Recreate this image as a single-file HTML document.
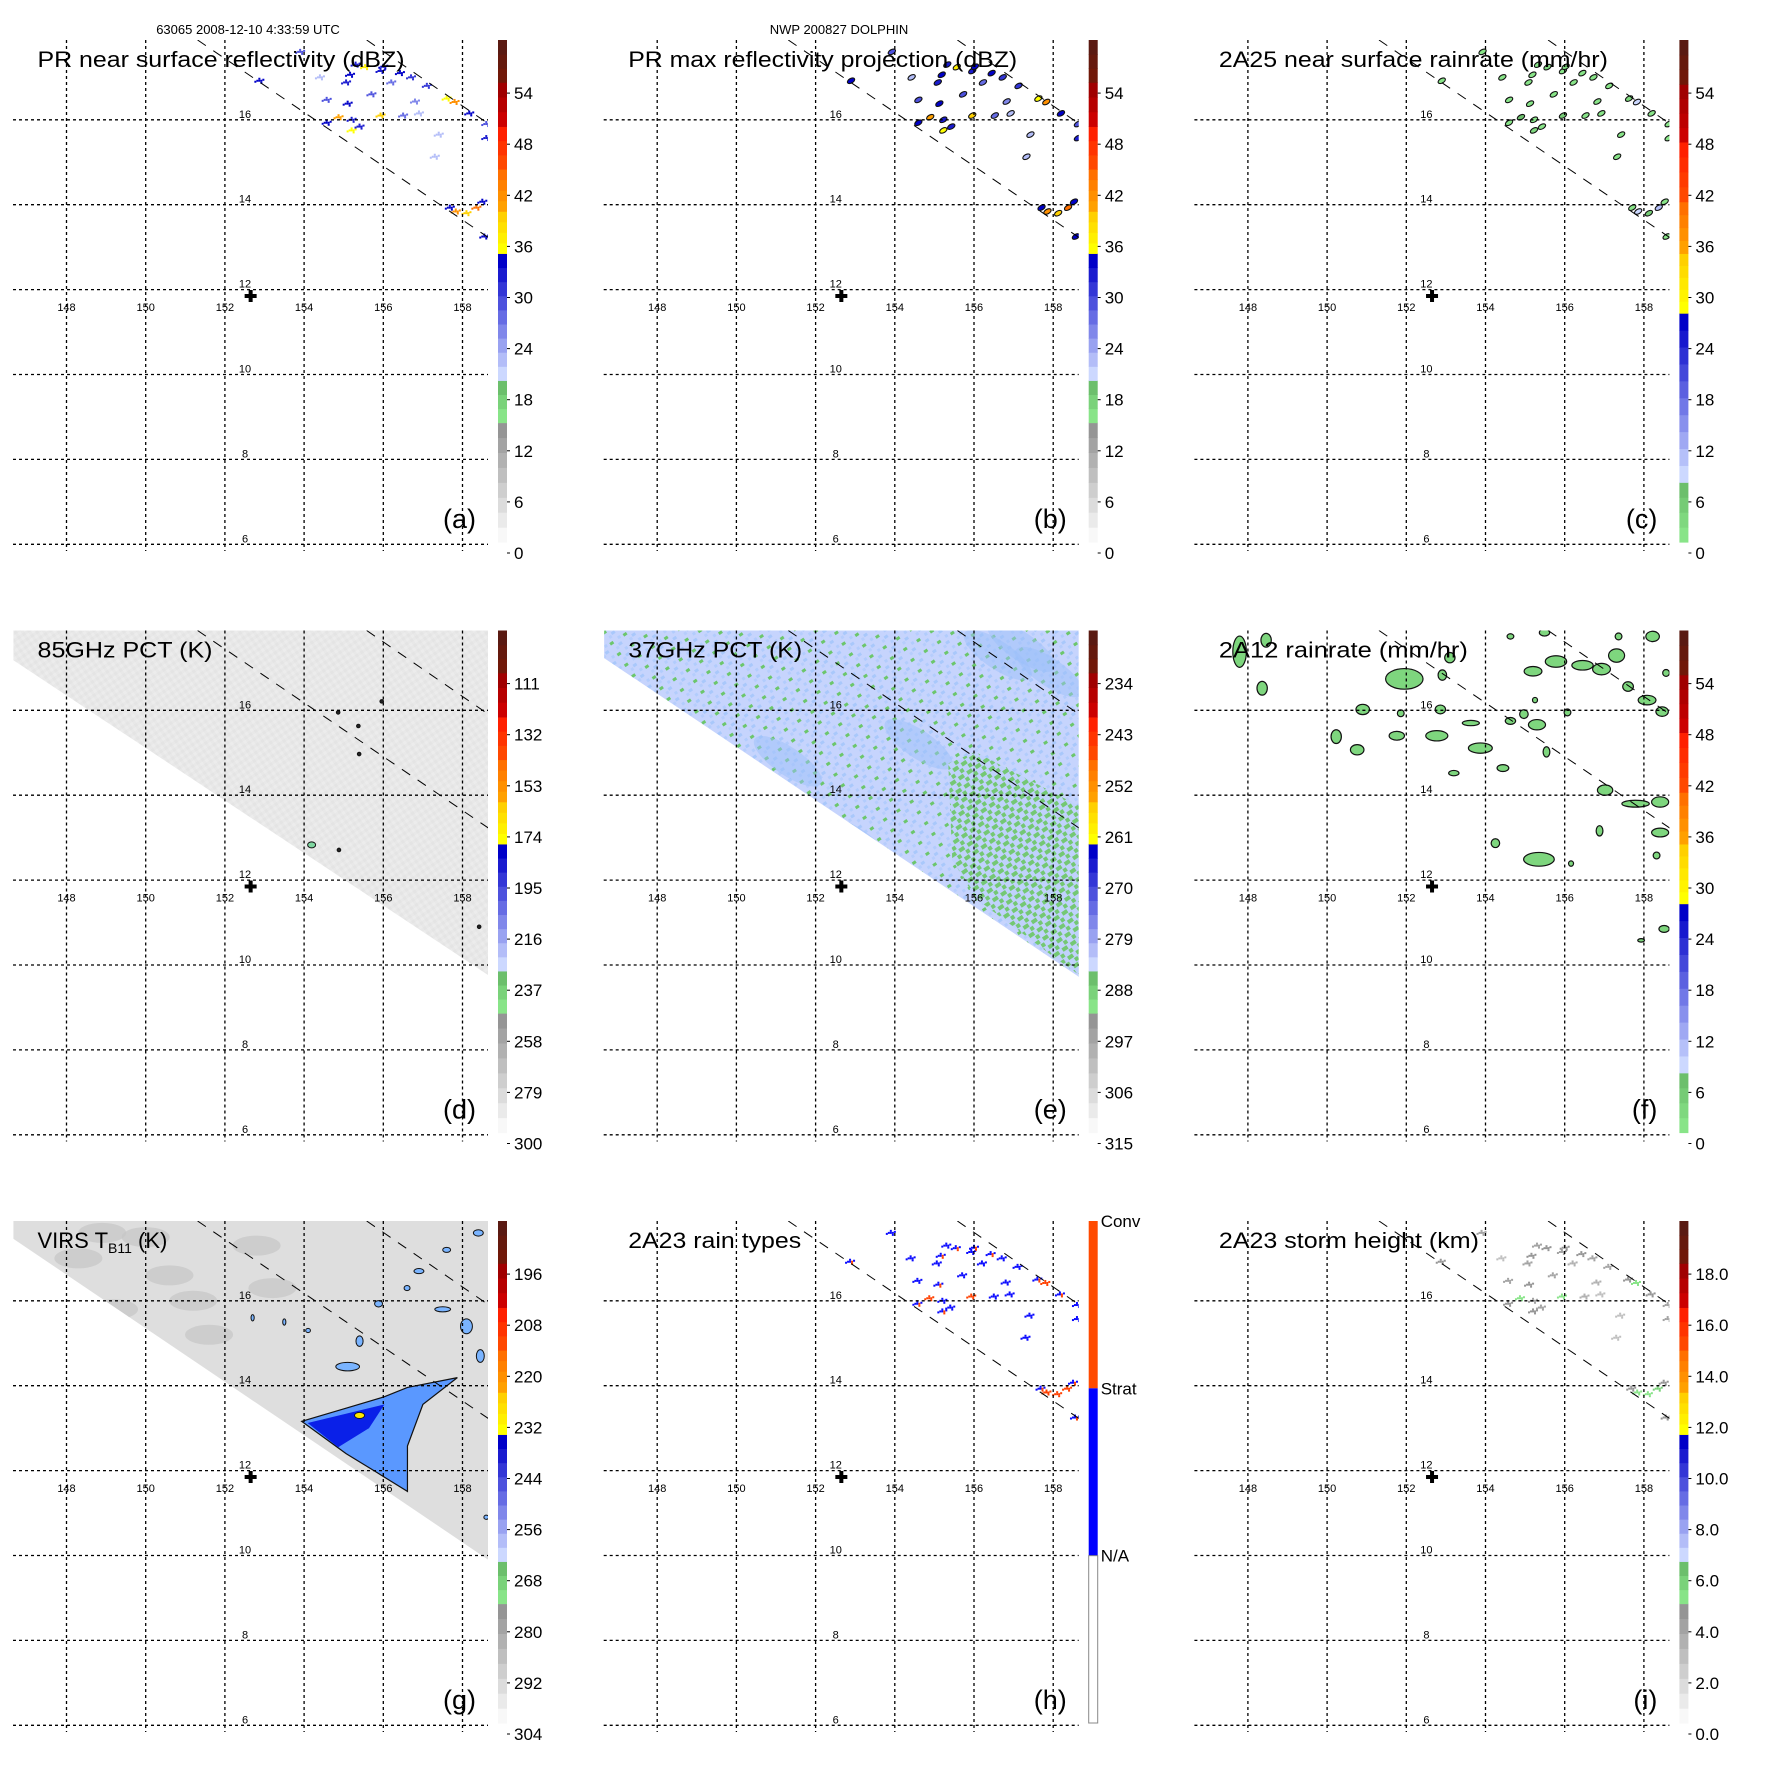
<!DOCTYPE html>
<html><head><meta charset="utf-8"><title>TRMM overpass panels</title>
<style>
html,body{margin:0;padding:0;background:#fff;}
svg{display:block;font-family:"Liberation Sans",sans-serif;}
</style></head>
<body>
<svg id="fig" xmlns="http://www.w3.org/2000/svg" width="1771" height="1771" viewBox="0 0 1771 1771">
<defs>
<clipPath id="plotclip"><rect x="13" y="40" width="475" height="511"/></clipPath>
<pattern id="greenSparse" width="16" height="13" patternUnits="userSpaceOnUse" patternTransform="rotate(-34)">
<rect x="0" y="0" width="16" height="13" fill="#c6d4fd"/>
<rect x="2" y="2" width="4" height="3" fill="#6cc66c"/>
<rect x="9" y="7" width="4" height="3" fill="#a9c8fb"/>
<rect x="12" y="1" width="3" height="3" fill="#b2ccfc"/>
<rect x="5" y="9" width="3" height="3" fill="#b6cdfc"/>
</pattern>
<pattern id="greenDense" width="10" height="10" patternUnits="userSpaceOnUse" patternTransform="rotate(-34)">
<rect x="0" y="0" width="10" height="10" fill="#c0d2fc"/>
<rect x="0" y="0" width="6" height="4" fill="#74c874"/>
<rect x="5" y="5" width="4" height="4" fill="#74c874"/>
</pattern>
<pattern id="grayTex" width="6" height="6" patternUnits="userSpaceOnUse" patternTransform="rotate(-34)">
<rect x="0" y="0" width="6" height="6" fill="#e8e8e8"/>
<rect x="0" y="0" width="3" height="3" fill="#e4e4e4"/>
<rect x="3" y="3" width="3" height="3" fill="#ececec"/>
</pattern>
</defs>
</svg>
<script>
// ---------- data arrays ----------
const panelTitles = ["PR near surface reflectivity (dBZ)","PR max reflectivity projection (dBZ)","2A25 near surface rainrate (mm/hr)","85GHz PCT (K)","37GHz PCT (K)","2A12 rainrate (mm/hr)","VIRS T","2A23 rain types","2A23 storm height (km)"];
const titleWidths = [367,389,389,175,174,249,147,173,260];
const panelLetters = ["(a)","(b)","(c)","(d)","(e)","(f)","(g)","(h)","(i)"];
const labelsA = ["0","6","12","18","24","30","36","42","48","54"];
const labelsD = ["300","279","258","237","216","195","174","153","132","111"];
const labelsE = ["315","306","297","288","279","270","261","252","243","234"];
const labelsG = ["304","292","280","268","256","244","232","220","208","196"];
const labelsI = ["0.0","2.0","4.0","6.0","8.0","10.0","12.0","14.0","16.0","18.0"];
const labelsH = ["Conv","Strat","N/A"];
const lonTicks = [148,150,152,154,156,158];
const latTicks = [6,8,10,12,14,16];
const centerLon = 152.65, centerLat = 11.85;
const swathALon = [151.31,158.68], swathALat = [17.88,13.21];
const swathBLon = [155.58,158.68], swathBLat = [17.88,15.89];
const prLon = [155.16,155.54,155.93,156.42,156.7,157.6,157.8,158.17,158.6,158.6,155.06,154.57,155.1,154.87,154.57,155.2,155.4,155.93,155.2,155.7,156.2,156.8,156.9,153.9,152.87,154.4,157.68,157.83,158.1,158.35,158.5,158.55,157.3,157.4,156.5,155.3,156.0,157.1];
const prLat = [17.06,17.24,17.15,17.1,17.0,16.5,16.42,16.15,15.9,15.57,16.88,16.47,16.38,16.06,15.93,15.75,15.84,16.1,16.0,16.6,16.88,16.43,16.15,17.6,16.92,17.0,13.93,13.84,13.8,13.93,14.07,13.25,15.13,15.65,16.1,17.3,17.25,16.8];
const prDbz = [30,33,28,30,27,32,38,30,26,28,28,26,30,37,30,32,28,36,28,25,24,22,18,25,30,18,30,38,36,40,30,30,18,19,24,29,31,27];
const f12Lon = [147.79,148.46,148.36,151.95,152.91,153.1,150.9,151.86,152.86,150.23,150.76,151.76,152.77,153.63,153.87,154.44,153.2,154.63,154.97,155.3,155.54,156.07,155.25,155.49,154.63,155.2,155.78,156.45,156.93,157.31,157.6,158.08,158.46,157.02,157.79,158.41,156.88,158.41,154.25,155.35,156.16,158.32,158.51,157.93,158.22,157.36,158.56];
const f12Lat = [17.38,17.65,16.52,16.74,16.83,17.24,16.02,15.93,16.02,15.38,15.07,15.4,15.4,15.7,15.11,14.64,14.52,15.75,15.91,15.66,15.02,15.95,16.24,17.83,17.74,16.92,17.15,17.06,16.97,17.29,16.56,16.24,15.97,14.12,13.8,13.84,13.16,13.12,12.87,12.49,12.39,12.58,10.85,10.58,17.74,17.74,16.88];
const f12W = [0.38,0.29,0.29,1.05,0.24,0.29,0.38,0.19,0.29,0.29,0.38,0.43,0.62,0.48,0.67,0.33,0.29,0.29,0.24,0.48,0.19,0.19,0.14,0.29,0.19,0.5,0.6,0.6,0.5,0.45,0.3,0.5,0.35,0.43,0.77,0.48,0.19,0.48,0.24,0.86,0.14,0.19,0.29,0.19,0.38,0.19,0.19];
const f12H = [0.82,0.36,0.36,0.54,0.27,0.27,0.27,0.18,0.23,0.36,0.27,0.23,0.27,0.14,0.27,0.18,0.14,0.18,0.23,0.27,0.27,0.18,0.14,0.18,0.14,0.25,0.3,0.25,0.3,0.35,0.25,0.25,0.25,0.27,0.18,0.27,0.27,0.23,0.23,0.36,0.14,0.18,0.18,0.09,0.27,0.18,0.18];
const d85Lon = [154.86,155.96,155.37,155.39,154.19,154.88,158.42];
const d85Lat = [15.95,16.21,15.63,14.97,12.83,12.71,10.9];
const edgeLon = [146.66,158.65];
const edgeLatD = [17.18,9.76];
const edgeLatE = [17.23,9.72];
const edgeLatG = [17.46,9.9];
const eGreenLon = [155.35,156.03,158.65,158.65,157.97,156.03,155.45];
const eGreenLat = [14.75,15.02,13.75,9.77,10.22,11.58,12.49];
const eBlueLon = [156.6,157.2,157.9,154.6,151.3,153.0];
const eBlueLat = [17.3,17.5,16.9,15.2,14.8,12.9];
const gCloudLon = [153.94,155.06,156.03,156.61,157.87,157.0,156.61,156.61,155.83,155.06];
const gCloudLat = [13.16,13.47,13.74,13.96,14.19,13.56,12.58,11.51,11.96,12.4];
const gCoreLon = [154.09,156.03,155.64,154.86];
const gCoreLat = [13.12,13.56,13.0,12.55];
const gCellLon = [155.1,155.4,155.88,157.5,158.1,158.45,154.1,156.9,157.6,158.4,156.6,153.5,152.7,158.6];
const gCellLat = [14.45,15.05,15.93,15.8,15.4,14.7,15.3,16.7,17.2,17.6,16.3,15.5,15.6,10.9];
const gCellW = [0.6,0.18,0.2,0.4,0.3,0.2,0.12,0.25,0.2,0.25,0.15,0.08,0.08,0.12];
const gCellH = [0.2,0.25,0.15,0.12,0.35,0.3,0.1,0.12,0.12,0.15,0.12,0.15,0.15,0.1];
const gPatchLon = [148.3,150.6,149.2,151.6,152.8,150.0,153.2,151.2,148.9];
const gPatchLat = [17.0,16.6,15.8,15.2,17.3,17.5,16.3,16.0,17.6];

// ---------- helpers ----------
const NS = "http://www.w3.org/2000/svg";
const svg = document.getElementById("fig");
const COL = 590.7, ROW = 590.5;
function xS(lon){ return 66.5 + (lon - 148) * 39.6; }
function yS(lat){ return 119.8 + (16 - lat) * 42.45; }
function mk(tag, attrs, parent){
  const e = document.createElementNS(NS, tag);
  for (const k in attrs) e.setAttribute(k, attrs[k]);
  parent.appendChild(e);
  return e;
}
function hex(c){ return [parseInt(c.substr(1,2),16),parseInt(c.substr(3,2),16),parseInt(c.substr(5,2),16)]; }
function lerp(c0,c1,t){ const a=hex(c0),b=hex(c1); return "rgb("+a.map((v,i)=>Math.round(v+(b[i]-v)*t)).join(",")+")"; }
const schemeA = [[0,0.238,"#f8f8f8","#959595",8],[0.238,0.322,"#88e488","#6cbf6c",3],[0.322,0.575,"#ccd8ff","#0000c8",9],[0.575,0.659,"#ffff00","#ffd000",4],[0.659,0.743,"#ffa000","#ff7000",4],[0.743,0.828,"#ff4800","#ff2000",3],[0.828,0.916,"#cc0000","#a00000",3],[0.916,1,"#701808","#5a1a12",3]];
const schemeB = [[0,0.119,"#88e488","#6cbf6c",4],[0.119,0.456,"#ccd8ff","#0000c8",10],[0.456,0.575,"#ffff00","#ffd000",5],[0.575,0.678,"#ffa000","#ff7000",4],[0.678,0.797,"#ff4800","#ff2000",4],[0.797,0.912,"#cc0000","#a00000",4],[0.912,1,"#701808","#5a1a12",3]];
function schemeColor(s, f){
  f = Math.max(0, Math.min(0.999, f));
  for (const g of s){ if (f >= g[0] && f < g[1]){ const k = Math.floor((f-g[0])/(g[1]-g[0])*g[4]); return lerp(g[2],g[3], g[4]>1?k/(g[4]-1):0); } }
  return "#fff";
}
const CB_TOP = 40, CB_BOT = 542;
function valFrac(v, perLabel){ const y = 553 - v / perLabel * 51.1; return (CB_BOT - y) / (CB_BOT - CB_TOP); }
const cellTpl = [[0,0],[2,0],[-2,0],[0,-2],[2,2],[4,-1],[-4,1]];

// ---------- panels ----------
for (let p = 0; p < 9; p++){
  const col = p % 3, row = Math.floor(p / 3);
  const g = mk("g", {transform:"translate("+(col*COL).toFixed(1)+","+(row*ROW).toFixed(1)+")"}, svg);
  
  
  const plot = mk("g", {"clip-path":"url(#plotclip)"}, g);
  
  

  if (p === 3 || p === 4 || p === 6){
    const el = p===3 ? edgeLatD : (p===4 ? edgeLatE : edgeLatG);
    const pts = [[xS(edgeLon[0]),40],[xS(edgeLon[1]),40],[xS(edgeLon[1]),yS(el[1])],[xS(edgeLon[0]),yS(el[0])]];
    const fill = p===3 ? "url(#grayTex)" : (p===4 ? "url(#greenSparse)" : "#dedede");
    const sw = mk("polygon", {points: pts.map(q=>q.join(",")).join(" "), fill: fill}, plot);
    
    
    const clipId = "swc"+p;
    const cp = mk("clipPath", {id: clipId}, plot);
    mk("polygon", {points: pts.map(q=>q.join(",")).join(" ")}, cp);
    const inner = mk("g", {"clip-path":"url(#"+clipId+")"}, plot);
    if (p === 3){
      for (let i=0;i<d85Lon.length;i++){
        const d = mk("ellipse", {cx:xS(d85Lon[i]), cy:yS(d85Lat[i]), rx: i===4?4:1.8, ry: i===4?3:1.8, fill: i===4?"#7ed6a0":"#222", stroke:"#111", "stroke-width":1}, inner);
        
        
      }
    }
    if (p === 4){
      for (let i=0;i<eBlueLon.length;i++){
        const b = mk("ellipse", {cx:xS(eBlueLon[i]), cy:yS(eBlueLat[i]), rx:40, ry:14, fill:"#9cc0fa", opacity:0.5, transform:"rotate(34 "+xS(eBlueLon[i])+" "+yS(eBlueLat[i])+")"}, inner);
        
        
      }
      const gp = mk("polygon", {points: eGreenLon.map((v,i)=>xS(v)+","+yS(eGreenLat[i])).join(" "), fill:"url(#greenDense)"}, inner);
      
      
    }
    if (p === 6){
      for (let i=0;i<gPatchLon.length;i++){
        const pa = mk("ellipse", {cx:xS(gPatchLon[i]), cy:yS(gPatchLat[i]), rx:24, ry:10, fill:"#c6c6c6", opacity:0.7}, inner);
        
        
      }
      const cl = mk("polygon", {points: gCloudLon.map((v,i)=>xS(v)+","+yS(gCloudLat[i])).join(" "), fill:"#5a98ff", stroke:"#111", "stroke-width":1.2}, inner);
      
      
      const co = mk("polygon", {points: gCoreLon.map((v,i)=>xS(v)+","+yS(gCoreLat[i])).join(" "), fill:"#0a20e8"}, inner);
      
      
      const ye = mk("ellipse", {cx:xS(155.4), cy:yS(13.3), rx:5, ry:3, fill:"#ffe800", stroke:"#111", "stroke-width":0.8}, inner);
      
      
      for (let i=0;i<gCellLon.length;i++){
        const c = mk("ellipse", {cx:xS(gCellLon[i]), cy:yS(gCellLat[i]), rx:gCellW[i]*39.6/2, ry:gCellH[i]*42.45/2, fill:"#7ab4ff", stroke:"#111", "stroke-width":1}, inner);
        
        
      }
    }
  }

  if ([0,1,2,7,8].includes(p)){
    for (let i=0;i<prLon.length;i++){
      const cx = xS(prLon[i]), cy = yS(prLat[i]), v = prDbz[i];
      if (p === 0 || p === 7 || p === 8){
        let col;
        if (p === 0) col = schemeColor(schemeA, valFrac(v + 4, 6));
        else if (p === 7) col = v >= 35 ? "#ff4000" : "#0a0aff";
        else col = schemeColor(schemeA, valFrac(1 + v*0.12, 2));
        const cg = mk("g", {}, plot);
        
        
        cellTpl.forEach((o,k)=>{
          const c2 = (p===7 && k%3===1) ? (v>=30?"#ff4000":"#0a0aff") : col;
          mk("rect", {x:cx+o[0]-1, y:cy+o[1]-1, width:2, height:2, fill:c2}, cg);
        });
      } else {
        const col = p === 1 ? schemeColor(schemeA, valFrac(v+4, 6)) : schemeColor(schemeB, valFrac(Math.pow(Math.pow(10, v/10)/200, 1/1.6), 6));
        const e = mk("ellipse", {cx:cx+1, cy:cy, rx:4, ry:2.3, fill:col, stroke:"#111", "stroke-width":1.1, transform:"rotate(-30 "+(cx+1)+" "+cy+")"}, plot);
        
        
      }
    }
  }

  if (p === 5){
    for (let i=0;i<f12Lon.length;i++){
      const b = mk("ellipse", {cx:xS(f12Lon[i]), cy:yS(f12Lat[i]), rx:f12W[i]*39.6/2*0.9, ry:f12H[i]*42.45/2*0.9, fill:"#7ed67e", stroke:"#111", "stroke-width":1.2}, plot);
      
      
    }
  }

  lonTicks.forEach(lon=>{
    const l = mk("line", {x1:xS(lon), y1:40, x2:xS(lon), y2:551, stroke:"#000", "stroke-width":1.3, "stroke-dasharray":"3 3"}, g);
    
    
    const t = mk("text", {x:xS(lon), y:311, "font-size":11, "text-anchor":"middle", fill:"#000"}, g);
    t.textContent = lon;
    
    
  });
  latTicks.forEach(lat=>{
    const l = mk("line", {x1:13, y1:yS(lat), x2:488, y2:yS(lat), stroke:"#000", "stroke-width":1.3, "stroke-dasharray":"3 3"}, g);
    
    
    const t = mk("text", {x:245, y:yS(lat)-2, "font-size":11, "text-anchor":"middle", fill:"#000"}, g);
    t.textContent = lat;
    
    
  });

  [[swathALon,swathALat],[swathBLon,swathBLat]].forEach(s=>{
    const l = mk("line", {x1:xS(s[0][0]), y1:yS(s[1][0]), x2:xS(s[0][1]), y2:yS(s[1][1]), stroke:"#000", "stroke-width":1, "stroke-dasharray":"10 9"}, plot);
    
    
  });

  const cx = xS(centerLon), cy = yS(centerLat);
  const plus = mk("path", {d:"M"+(cx-6)+","+cy+"H"+(cx+6)+"M"+cx+","+(cy-6)+"V"+(cy+6), stroke:"#000", "stroke-width":4}, g);
  
  

  const tt = mk("text", {x:37.5, y:67, "font-size":22, fill:"#000", textLength:titleWidths[p], lengthAdjust:"spacingAndGlyphs"}, g);
  
  
  if (p === 6){
    tt.textContent = panelTitles[p];
    const sub = mk("tspan", {"font-size":14, dy:5}, tt);
    sub.textContent = "B11";
    const rest = mk("tspan", {dy:-5}, tt);
    rest.textContent = " (K)";
    tt.removeAttribute("textLength");
  } else tt.textContent = panelTitles[p];

  const lt = mk("text", {x:476, y:528, "font-size":27, "text-anchor":"end", fill:"#000"}, g);
  lt.textContent = panelLetters[p];
  
  

  const cb = mk("g", {}, g);
  
  
  const H = CB_BOT - CB_TOP;
  if (p === 7){
    mk("rect", {x:498, y:CB_TOP, width:9, height:H/3, fill:"#ff4a00"}, cb);
    mk("rect", {x:498, y:CB_TOP+H/3, width:9, height:H/3, fill:"#0000ff"}, cb);
    mk("rect", {x:498, y:CB_TOP+2*H/3, width:9, height:H/3, fill:"#fff", stroke:"#888", "stroke-width":1}, cb);
    labelsH.forEach((s,k)=>{
      const t = mk("text", {x:510, y:CB_TOP + k*H/3 + 6, "font-size":17, fill:"#000"}, cb);
      t.textContent = s;
      
      
    });
  } else {
    const sch = (p === 2 || p === 5) ? schemeB : schemeA;
    sch.forEach(sg=>{
      for (let k=0;k<sg[4];k++){
        const f0 = sg[0] + (sg[1]-sg[0])*k/sg[4], f1 = sg[0] + (sg[1]-sg[0])*(k+1)/sg[4];
        mk("rect", {x:498, y:(CB_BOT - f1*H).toFixed(2), width:9, height:((f1-f0)*H+0.6).toFixed(2), fill:lerp(sg[2],sg[3], sg[4]>1?k/(sg[4]-1):0)}, cb);
      }
    });
    const labs = p===3 ? labelsD : p===4 ? labelsE : p===6 ? labelsG : p===8 ? labelsI : labelsA;
    labs.forEach((s,k)=>{
      const y = 553 - k*51.1;
      mk("line", {x1:507, y1:y, x2:510, y2:y, stroke:"#000", "stroke-width":1}, cb);
      const t = mk("text", {x:514, y:y+6, "font-size":17, fill:"#000"}, cb);
      t.textContent = s;
      
      
    });
  }
}

const h1 = mk("text", {x:248, y:34, "font-size":13, "text-anchor":"middle", fill:"#000"}, svg);
h1.textContent = "63065 2008-12-10 4:33:59 UTC";


const h2 = mk("text", {x:839, y:34, "font-size":13, "text-anchor":"middle", fill:"#000"}, svg);
h2.textContent = "NWP 200827 DOLPHIN";


</script>
</body></html>
